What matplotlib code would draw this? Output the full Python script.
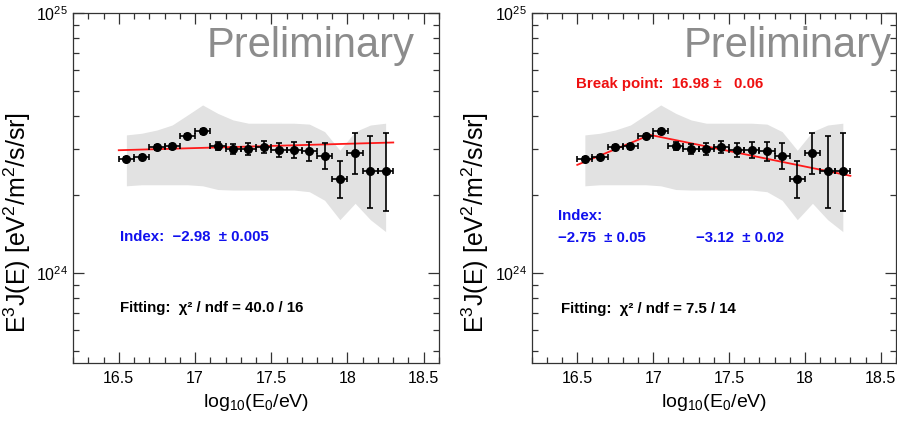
import numpy as np
import matplotlib
matplotlib.use('Agg')
import matplotlib.pyplot as plt
from matplotlib.ticker import MultipleLocator, FormatStrFormatter, LogLocator, NullFormatter, LogFormatterSciNotation

plt.rcParams['font.family'] = ['Liberation Sans', 'DejaVu Sans']
plt.rcParams['mathtext.default'] = 'regular'

SCALE = 1e24

# log10(E0/eV) bin centres
log_e = [16.55, 16.65, 16.75, 16.85, 16.95, 17.05, 17.15, 17.25, 17.35,
         17.45, 17.55, 17.65, 17.75, 17.85, 17.95, 18.05, 18.15, 18.25]
# E^3 J(E) in units of 1e24
flux = [2.73, 2.79, 3.04, 3.07, 3.36, 3.50, 3.07, 3.00, 3.00,
        3.05, 2.96, 2.96, 2.93, 2.82, 2.29, 2.88, 2.46, 2.46]
err_lo = [0.05, 0.05, 0.07, 0.07, 0.07, 0.07, 0.10, 0.13, 0.15,
          0.16, 0.18, 0.20, 0.24, 0.31, 0.35, 0.48, 0.68, 0.73]
err_hi = [0.05, 0.05, 0.07, 0.07, 0.07, 0.07, 0.10, 0.14, 0.15,
          0.17, 0.19, 0.22, 0.26, 0.34, 0.41, 0.57, 0.90, 0.99]
# systematic band
band_hi = [3.39, 3.44, 3.54, 3.70, 4.04, 4.42, 4.10, 3.87, 3.76,
           3.76, 3.76, 3.76, 3.73, 3.49, 2.96, 3.49, 3.70, 3.76]
band_lo = [2.16, 2.18, 2.18, 2.18, 2.18, 2.16, 2.09, 2.08, 2.08,
           2.08, 2.08, 2.08, 2.05, 1.90, 1.60, 1.85, 1.60, 1.44]

# fits
fit1_x = [16.5, 18.3]
fit1_y = [2.96, 3.17]
fit2_x = [16.5, 16.98, 18.3]
fit2_y = [2.60, 3.39, 2.36]

fig = plt.figure(figsize=(8.97, 4.25), dpi=100)
ax1 = fig.add_axes([0.0814, 0.146, 0.408, 0.824])
ax2 = fig.add_axes([0.5928, 0.146, 0.406, 0.824])


def draw_panel(ax, fx, fy, ylab_x):
    x = np.array(log_e)
    y = np.array(flux) * SCALE
    ax.fill_between(x, np.array(band_lo) * SCALE, np.array(band_hi) * SCALE,
                    color='#e2e2e2', lw=0, zorder=1)
    ax.plot(fx, np.array(fy) * SCALE, color='#ff1a1a', lw=1.3, zorder=2)
    ax.errorbar(x, y, xerr=0.05,
                yerr=[np.array(err_lo) * SCALE, np.array(err_hi) * SCALE],
                fmt='o', color='black', ms=5.5, capsize=2, elinewidth=1.2,
                capthick=1.2, zorder=3)
    ax.set_yscale('log')
    ax.set_xlim(16.2, 18.6)
    ax.set_ylim(4.5e23, 1e25)
    ax.xaxis.set_major_locator(MultipleLocator(0.5))
    ax.xaxis.set_minor_locator(MultipleLocator(0.1))
    ax.xaxis.set_major_formatter(FormatStrFormatter('%g'))
    ax.yaxis.set_major_locator(LogLocator(base=10))
    ax.yaxis.set_minor_locator(LogLocator(base=10, subs=np.arange(2, 10)))
    ax.yaxis.set_major_formatter(LogFormatterSciNotation())
    ax.yaxis.set_minor_formatter(NullFormatter())
    ax.tick_params(which='both', direction='in', top=True, right=True,
                   labelsize=11.5, color='#333333', width=0.9)
    ax.tick_params(which='major', length=8)
    ax.tick_params(which='minor', length=4)
    ax.tick_params(axis='x', pad=6)
    for s in ax.spines.values():
        s.set_color('#333333')
        s.set_linewidth(0.9)
    ax.set_xlabel(r'log$_{10}$(E$_{0}$/eV)', fontsize=14, labelpad=4)
    ax.set_ylabel(r'E$^{3}$J(E) [eV$^{2}$/m$^{2}$/s/sr]', fontsize=18)
    ax.yaxis.set_label_coords(ylab_x, 0.40)


draw_panel(ax1, fit1_x, fit1_y, -0.108)
draw_panel(ax2, fit2_x, fit2_y, -0.112)

ax1.text(0.366, 0.905, 'Preliminary', transform=ax1.transAxes, fontsize=30,
         color='#8c8c8c', ha='left', va='center')
ax2.text(0.416, 0.905, 'Preliminary', transform=ax2.transAxes, fontsize=30,
         color='#8c8c8c', ha='left', va='center')

fs = 10.8
ax1.text(0.128, 0.361, 'Index:  \u22122.98  \u00b1 0.005', transform=ax1.transAxes,
         fontsize=fs, color='#1010ee', fontweight='bold', ha='left', va='center')
ax1.text(0.128, 0.156, 'Fitting:  \u03c7\u00b2 / ndf = 40.0 / 16', transform=ax1.transAxes,
         fontsize=fs, color='black', fontweight='bold', ha='left', va='center')

ax2.text(0.121, 0.796, 'Break point:  16.98 \u00b1   0.06', transform=ax2.transAxes,
         fontsize=fs, color='#ee1010', fontweight='bold', ha='left', va='center')
ax2.text(0.072, 0.42, 'Index:', transform=ax2.transAxes,
         fontsize=fs, color='#1010ee', fontweight='bold', ha='left', va='center')
ax2.text(0.072, 0.356, '\u22122.75  \u00b1 0.05', transform=ax2.transAxes,
         fontsize=fs, color='#1010ee', fontweight='bold', ha='left', va='center')
ax2.text(0.451, 0.356, '\u22123.12  \u00b1 0.02', transform=ax2.transAxes,
         fontsize=fs, color='#1010ee', fontweight='bold', ha='left', va='center')
ax2.text(0.079, 0.153, 'Fitting:  \u03c7\u00b2 / ndf = 7.5 / 14', transform=ax2.transAxes,
         fontsize=fs, color='black', fontweight='bold', ha='left', va='center')

fig.savefig('out.png', dpi=100)
